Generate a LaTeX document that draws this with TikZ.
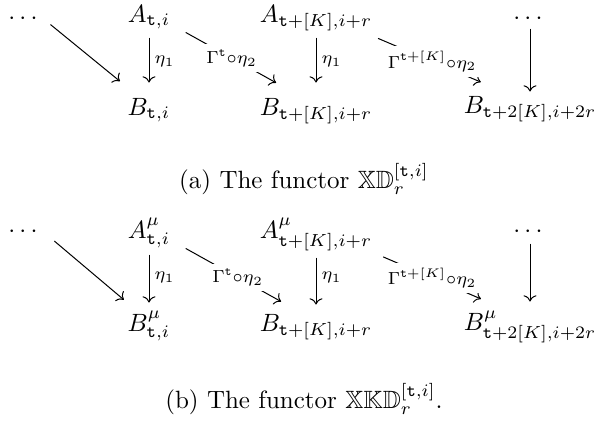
\documentclass[tikz,border=0pt]{standalone}
\usepackage{amsmath,amssymb}
\usetikzlibrary{arrows.meta}

\newcommand{\tv}{\mathtt{t}}

\tikzset{
  obj/.style={anchor=base, inner xsep=0pt, inner ysep=0pt, text height=9pt, text depth=1pt},
  dots/.style={anchor=base, inner sep=0pt, text height=5pt, text depth=0pt},
  map/.style={-{Computer Modern Rightarrow}},
  vlbl/.style={anchor=west, inner sep=2pt},
  dlbl/.style={fill=white, inner sep=2pt}
}

\begin{document}
\begin{tikzpicture}[x=0.4pt,y=-0.4pt]

\useasboundingbox (0,0) rectangle (597,428);

% === (a): the functor XD ===
\begin{scope}
\node[dots] (dL) at (25,24) {$\cdots$};
\node[obj] (A1) at (149,22) {$A_{\tv,i}$};
\node[obj] (A2) at (316,22) {$A_{\tv+[K],i+r}$};
\node[dots] (dR) at (530,24) {$\cdots$};
\node[obj] (B1) at (149,115) {$B_{\tv,i}$};
\node[obj] (B2) at (316,115) {$B_{\tv+[K],i+r}$};
\node[obj] (B3) at (530,113) {$B_{\tv+2[K],i+2r}$};

\draw[map, shorten <=4.3pt, shorten >=6.8pt] (dL.east) -- (B1);
\draw[map, shorten <=5pt, shorten >=3.8pt] (A1) -- node[vlbl, pos=0.55] {$\scriptstyle\eta_1$} (B1);
\draw[map, shorten <=6.9pt, shorten >=7.6pt] (A1) -- node[dlbl] {$\scriptstyle\Gamma^{\tv}\circ\eta_2$} (B2);
\draw[map, shorten <=5pt, shorten >=3.8pt] (A2) -- node[vlbl, pos=0.55] {$\scriptstyle\eta_1$} (B2);
\draw[map, shorten <=13.7pt, shorten >=8.1pt] (A2) -- node[dlbl, pos=0.56] {$\scriptstyle\Gamma^{\tv+[K]}\circ\eta_2$} (B3);
\draw[map, shorten <=1.6pt, shorten >=-0.6pt] (dR) -- (B3);

\node[anchor=base] (capA) at (304,188) {(a) The functor $\mathbb{XD}_r^{[\tv,i]}$};
\end{scope}

% === (b): the functor XKD ===
\begin{scope}[shift={(0,216)}]
\node[dots] (dL) at (25,21) {$\cdots$};
\node[obj] (A1) at (149,22) {$A^{\mu}_{\tv,i}$};
\node[obj] (A2) at (316,22) {$A^{\mu}_{\tv+[K],i+r}$};
\node[dots] (dR) at (530,21) {$\cdots$};
\node[obj] (B1) at (149,115) {$B^{\mu}_{\tv,i}$};
\node[obj] (B2) at (316,115) {$B_{\tv+[K],i+r}$};
\node[obj] (B3) at (530,114) {$B^{\mu}_{\tv+2[K],i+2r}$};

\draw[map, shorten <=6.4pt, shorten >=5.1pt] (dL.east) -- (B1);
\draw[map, shorten <=5.4pt, shorten >=2.2pt] (A1) -- node[vlbl, pos=0.55] {$\scriptstyle\eta_1$} (B1);
\draw[map, shorten <=6.9pt, shorten >=5.3pt] (A1) -- node[dlbl, pos=0.55] {$\scriptstyle\Gamma^{\tv}\circ\eta_2$} (B2);
\draw[map, shorten <=6.6pt, shorten >=1.4pt] (A2) -- node[vlbl, pos=0.55] {$\scriptstyle\eta_1$} (B2);
\draw[map, shorten <=16.1pt, shorten >=8.2pt] (A2) -- node[dlbl, pos=0.56] {$\scriptstyle\Gamma^{\tv+[K]}\circ\eta_2$} (B3);
\draw[map, shorten <=2.4pt, shorten >=2.2pt] (dR) -- (B3);

\node[anchor=base] (capB) at (304,192) {(b) The functor $\mathbb{XKD}_r^{[\tv,i]}$.};
\end{scope}

\end{tikzpicture}
\end{document}
